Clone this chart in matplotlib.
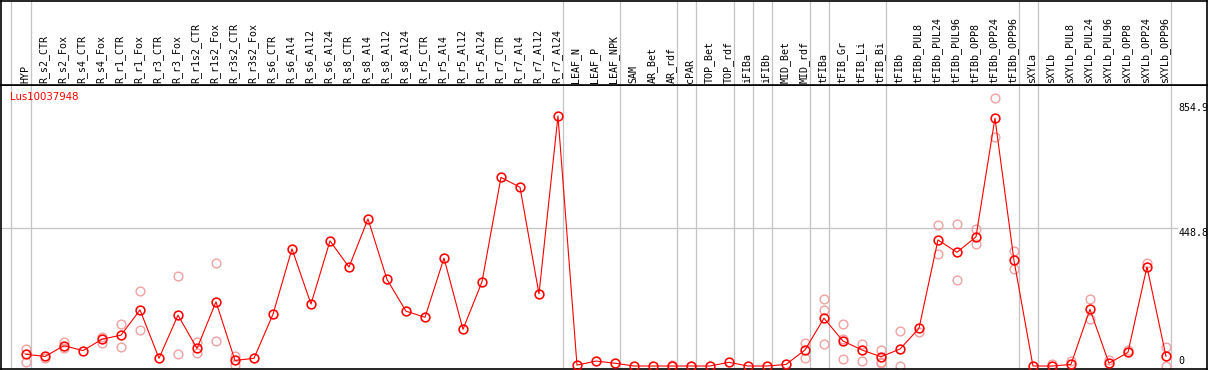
import matplotlib
matplotlib.use("Agg")
import matplotlib.pyplot as plt

categories = ["HYP", "R_s2_CTR", "R_s2_Fox", "R_s4_CTR", "R_s4_Fox", "R_r1_CTR", "R_r1_Fox",
              "R_r3_CTR", "R_r3_Fox", "R_r1s2_CTR", "R_r1s2_Fox", "R_r3s2_CTR", "R_r3s2_Fox",
              "R_s6_CTR", "R_s6_Al4", "R_s6_Al12", "R_s6_Al24", "R_s8_CTR", "R_s8_Al4",
              "R_s8_Al12", "R_s8_Al24", "R_r5_CTR", "R_r5_Al4", "R_r5_Al12", "R_r5_Al24",
              "R_r7_CTR", "R_r7_Al4", "R_r7_Al12", "R_r7_Al24", "LEAF_N", "LEAF_P", "LEAF_NPK",
              "SAM", "AR_Bet", "AR_rdf", "cPAR", "TOP_Bet", "TOP_rdf", "iFIBa", "iFIBb",
              "MID_Bet", "MID_rdf", "tFIBa", "tFIB_Gr", "tFIB_Li", "tFIB_Bi", "tFIBb",
              "tFIBb_PUL8", "tFIBb_PUL24", "tFIBb_PUL96", "tFIBb_OPP8", "tFIBb_OPP24",
              "tFIBb_OPP96", "sXYLa", "sXYLb", "sXYLb_PUL8", "sXYLb_PUL24", "sXYLb_PUL96",
              "sXYLb_OPP8", "sXYLb_OPP24", "sXYLb_OPP96"]

means = [38, 31, 66, 50, 87, 100, 182, 25, 165, 57, 208, 18, 25, 168, 380, 201, 406, 321,
         477, 281, 178, 158, 350, 119, 273, 612, 580, 234, 811, 3, 16, 9, 0, 0, 0, 0, 0, 12,
         0, 0, 5, 52, 155, 81, 52, 30, 55, 122, 409, 369, 419, 804, 343, 0, 0, 5, 184, 9,
         44, 322, 32]

replicates = [[55, 12], [25], [79, 57], [], [95, 76], [136, 61], [243, 117], [], [291, 38],
              [79, 41], [334, 81], [32, 3], [], [], [], [], [], [], [], [], [], [], [], [],
              [], [], [], [], [], [], [], [], [], [], [2], [1], [], [], [], [], [],
              [74, 27], [216, 182, 70], [136, 23, 88], [70, 16], [52, 14, 9], [114, 0],
              [111], [456, 362], [460, 278], [445, 395], [869, 742], [373, 314], [], [6],
              [16], [217, 152], [19], [52], [335], [63, 0]]

group_ends = [0, 28, 31, 34, 35, 37, 38, 39, 41, 42, 45, 52, 53, 60]
tick_values = [0, 448.8, 854.9]
tick_labels = ["0", "448.8", "854.9"]
gene_id = "Lus10037948"

W, H = 1209, 370
fig = plt.figure(figsize=(W / 100, H / 100), dpi=100)

x0 = 1 / W
wid = 1206 / W
ax = fig.add_axes([x0, 1 / H, wid, 284 / H])
axh = fig.add_axes([x0, 285 / H, wid, 84 / H])

xlim = (-1.316, 62.16)
for a in (ax, axh):
    a.set_xlim(*xlim)
    a.set_xticks([])
    a.set_yticks([])
    for s in a.spines.values():
        s.set_color("black")
        s.set_linewidth(1.2)
axh.set_ylim(0, 1)
ax.set_ylim(-9.7, 911.7)

grid_col = "#c4c4c4"
sep_x = [-0.8] + [k + 0.25 for k in group_ends]
for a in (ax, axh):
    for sx in sep_x:
        a.axvline(sx, color=grid_col, lw=0.9, zorder=0)
ax.plot([xlim[0], 60.58], [448.8, 448.8], color=grid_col, lw=0.9, zorder=0)

mono = "DejaVu Sans Mono"
for i, lab in enumerate(categories):
    axh.text(i - 0.05, 0.025, lab, rotation=90, ha="center", va="bottom",
             fontsize=7.2, family=mono, color="black")

xs = list(range(len(categories)))
rx, ry = [], []
for i, reps in enumerate(replicates):
    for v in reps:
        rx.append(i)
        ry.append(v)
ax.plot(rx, ry, linestyle="none", marker="o", markersize=6.3, mfc="none",
        mec="#f0a0a0", mew=1.0, zorder=2, clip_on=True)
ax.plot(xs, means, color="red", lw=0.8, marker="o", markersize=6.3, mfc="none",
        mec="red", mew=1.15, zorder=3)

lx = (1178.5 - 26) / 19
for v, t in zip(tick_values, tick_labels):
    va = "bottom" if v == 0 else "top"
    ax.text(lx, v, t, ha="left", va=va, fontsize=7.2, family=mono, color="black")

ax.text(9 / 1206, (369 - 92) / 284, gene_id, transform=ax.transAxes, ha="left", va="top",
        fontsize=7.3, color="red", family="DejaVu Sans")

fig.savefig("out.png", dpi=100)
